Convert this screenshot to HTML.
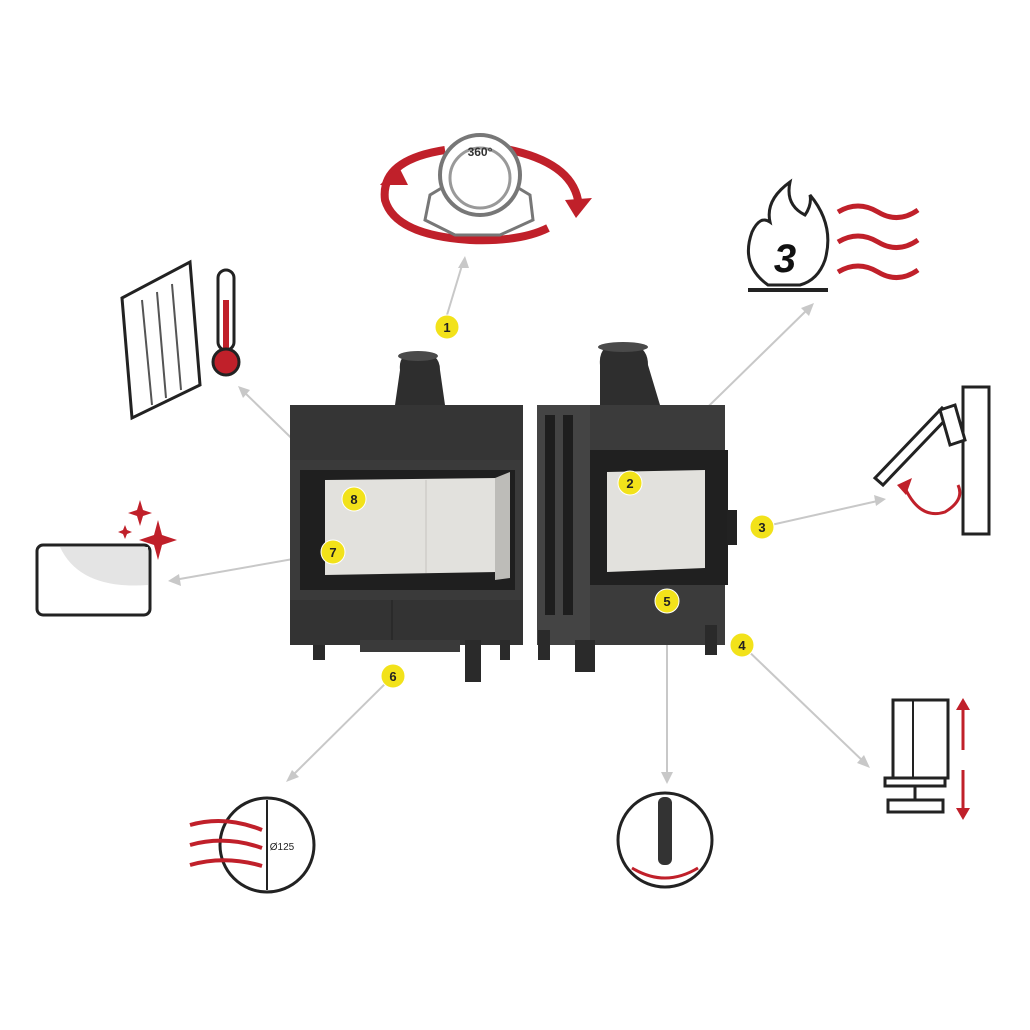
<!DOCTYPE html>
<html><head><style>
html,body{margin:0;padding:0;background:#fff;}
svg{display:block}
text{font-family:"Liberation Sans",sans-serif;}
</style></head><body>
<svg width="1030" height="1030" viewBox="0 0 1030 1030" xmlns="http://www.w3.org/2000/svg">
<rect width="1030" height="1030" fill="#fff"/>
<!-- connector lines -->
<g stroke="#c8c8c8" stroke-width="2" fill="none">
<line x1="447" y1="315" x2="463" y2="262"/>
<line x1="630" y1="483" x2="810" y2="307"/>
<line x1="762" y1="527" x2="882" y2="500"/>
<line x1="742" y1="645" x2="866" y2="764"/>
<line x1="667" y1="601" x2="667" y2="778"/>
<line x1="393" y1="676" x2="290" y2="778"/>
<line x1="333" y1="552" x2="174" y2="580"/>
<line x1="354" y1="499" x2="242" y2="390"/>
</g>
<g fill="#c8c8c8">
<polygon points="465,256 458,268 469,268"/>
<polygon points="814,303 801,308 809,316"/>
<polygon points="886,499 874,495 876,506"/>
<polygon points="870,768 857,763 864,755"/>
<polygon points="667,784 661,772 673,772"/>
<polygon points="286,782 292,770 299,777"/>
<polygon points="168,581 179,574 181,586"/>
<polygon points="238,386 250,390 243,398"/>
</g>
<!-- left fireplace -->
<g>
<path d="M395 405 L400 370 Q398 352 418 352 Q440 352 440 370 L445 405Z" fill="#2e2e2e"/>
<ellipse cx="418" cy="356" rx="20" ry="5" fill="#4a4a4a"/>
<rect x="290" y="405" width="233" height="55" fill="#353535"/>
<rect x="290" y="460" width="233" height="140" fill="#3a3a3a"/>
<rect x="300" y="470" width="215" height="120" fill="#1f1f1f"/>
<polygon points="325,480 497,478 497,572 325,575" fill="#e2e1dd"/>
<polygon points="495,478 510,472 510,578 495,580" fill="#bdbcb8"/>
<line x1="426" y1="480" x2="426" y2="573" stroke="#c5c4c0"/>
<rect x="290" y="600" width="233" height="45" fill="#333"/>
<line x1="392" y1="600" x2="392" y2="645" stroke="#222"/>
<rect x="313" y="645" width="12" height="15" fill="#2a2a2a"/>
<rect x="465" y="640" width="16" height="42" fill="#2a2a2a"/>
<rect x="500" y="640" width="10" height="20" fill="#2a2a2a"/>
<rect x="360" y="640" width="100" height="12" fill="#3a3a3a"/>
</g>
<!-- right fireplace -->
<g>
<path d="M600 405 L600 365 Q598 343 622 343 Q648 343 648 365 L660 405Z" fill="#2e2e2e"/>
<ellipse cx="623" cy="347" rx="25" ry="5" fill="#4a4a4a"/>
<rect x="537" y="405" width="188" height="240" fill="#3b3b3b"/>
<rect x="537" y="405" width="53" height="240" fill="#444"/>
<rect x="545" y="415" width="10" height="200" fill="#1e1e1e"/>
<rect x="563" y="415" width="10" height="200" fill="#1e1e1e"/>
<rect x="590" y="450" width="138" height="135" fill="#202020"/>
<polygon points="607,472 705,470 705,568 607,572" fill="#e2e1dd"/>
<rect x="727" y="510" width="10" height="35" fill="#222"/>
<rect x="538" y="630" width="12" height="30" fill="#2a2a2a"/>
<rect x="575" y="640" width="20" height="32" fill="#2a2a2a"/>
<rect x="705" y="625" width="12" height="30" fill="#2a2a2a"/>
</g>
<!-- badges -->
<g fill="#f2e21a" stroke="#fff" stroke-width="1">
<circle cx="447" cy="327" r="12"/><circle cx="630" cy="483" r="12"/><circle cx="762" cy="527" r="12"/>
<circle cx="742" cy="645" r="12"/><circle cx="667" cy="601" r="12"/><circle cx="393" cy="676" r="12"/>
<circle cx="333" cy="552" r="12"/><circle cx="354" cy="499" r="12"/>
</g>
<g font-size="13" font-weight="bold" text-anchor="middle" fill="#222">
<text x="447" y="332">1</text><text x="630" y="488">2</text><text x="762" y="532">3</text>
<text x="742" y="650">4</text><text x="667" y="606">5</text><text x="393" y="681">6</text>
<text x="333" y="557">7</text><text x="354" y="504">8</text>
</g>
<!-- icon 1 rotation -->
<g>
<path d="M445 150 Q380 160 385 200 Q395 235 470 240 Q520 242 548 228" stroke="#c0202a" stroke-width="8" fill="none"/>
<path d="M500 148 Q570 160 578 200" stroke="#c0202a" stroke-width="8" fill="none"/>
<polygon points="565,200 592,198 576,218" fill="#c0202a"/>
<polygon points="398,165 380,185 408,185" fill="#c0202a"/>
<polygon points="425,220 430,195 455,180 505,180 530,195 533,220 500,235 455,235" fill="#fff" stroke="#777" stroke-width="3"/>
<circle cx="480" cy="175" r="40" fill="#fff" stroke="#777" stroke-width="4"/>
<circle cx="480" cy="178" r="30" fill="none" stroke="#999" stroke-width="3"/>
<text x="480" y="156" font-size="12" font-weight="bold" text-anchor="middle" fill="#333">360°</text>
</g>
<!-- icon 2 flame -->
<g>
<path d="M768 285 Q740 265 752 232 Q760 215 770 222 Q765 200 790 182 Q785 205 805 215 Q812 205 810 195 Q835 225 825 260 Q818 280 800 285Z" fill="#fff" stroke="#222" stroke-width="3"/>
<text x="785" y="272" font-size="40" font-weight="bold" font-style="italic" text-anchor="middle" fill="#111">3</text>
<line x1="748" y1="290" x2="828" y2="290" stroke="#222" stroke-width="4"/>
<g stroke="#c0202a" stroke-width="5" fill="none">
<path d="M838 212 Q858 200 878 212 Q898 224 918 210"/>
<path d="M838 242 Q858 230 878 242 Q898 254 918 240"/>
<path d="M838 272 Q858 260 878 272 Q898 284 918 270"/>
</g>
</g>
<!-- icon 3 bracket -->
<g stroke="#222" stroke-width="3" fill="#fff">
<rect x="963" y="387" width="26" height="147"/>
<polygon points="875,478 942,408 950,415 883,485"/>
<polygon points="940,410 955,405 965,440 950,445"/>
</g>
<path d="M905 488 Q920 520 945 512 Q965 500 958 485" stroke="#c0202a" stroke-width="3" fill="none"/>
<polygon points="897,485 912,478 906,495" fill="#c0202a"/>
<!-- icon 4 legs -->
<g stroke="#222" stroke-width="3" fill="#fff">
<rect x="893" y="700" width="55" height="78"/>
<rect x="885" y="778" width="60" height="8"/>
<line x1="915" y1="786" x2="915" y2="800"/>
<rect x="888" y="800" width="55" height="12"/>
</g>
<line x1="913" y1="700" x2="913" y2="778" stroke="#222" stroke-width="2"/>
<g stroke="#c0202a" stroke-width="3"><line x1="963" y1="705" x2="963" y2="750"/><line x1="963" y1="770" x2="963" y2="815"/></g>
<g fill="#c0202a"><polygon points="963,698 956,710 970,710"/><polygon points="963,820 956,808 970,808"/></g>
<!-- icon 5 circle -->
<circle cx="665" cy="840" r="47" fill="#fff" stroke="#222" stroke-width="3"/>
<rect x="658" y="797" width="14" height="68" rx="6" fill="#333"/>
<path d="M632 868 Q665 888 698 868" stroke="#c0202a" stroke-width="3" fill="none"/>
<!-- icon 6 circle -->
<circle cx="267" cy="845" r="47" fill="#fff" stroke="#222" stroke-width="3"/>
<line x1="267" y1="800" x2="267" y2="890" stroke="#222" stroke-width="2"/>
<text x="282" y="850" font-size="10" fill="#222" text-anchor="middle">Ø125</text>
<g stroke="#c0202a" stroke-width="4" fill="none">
<path d="M190 825 Q225 815 262 830"/><path d="M190 845 Q225 835 262 848"/><path d="M190 865 Q225 855 262 866"/>
</g>
<!-- icon 7 card -->
<rect x="37" y="545" width="113" height="70" rx="6" fill="#fff" stroke="#222" stroke-width="3"/>
<path d="M60 547 Q80 590 148 585 L148 547Z" fill="#e4e4e4"/>
<g fill="#c0202a">
<path d="M158 520 L162 535 L177 540 L162 545 L158 560 L154 545 L139 540 L154 535Z"/>
<path d="M140 500 L143 510 L152 513 L143 516 L140 526 L137 516 L128 513 L137 510Z"/>
<path d="M125 525 L127 530 L132 532 L127 534 L125 539 L123 534 L118 532 L123 530Z"/>
</g>
<!-- icon 8 door + thermometer -->
<g stroke="#222" stroke-width="3" fill="#fff">
<polygon points="122,298 190,262 200,385 132,418"/>
</g>
<g stroke="#555" stroke-width="2">
<line x1="142" y1="300" x2="152" y2="405"/><line x1="157" y1="292" x2="166" y2="398"/>
<line x1="172" y1="284" x2="181" y2="390"/>
</g>
<rect x="218" y="270" width="16" height="80" rx="8" fill="#fff" stroke="#222" stroke-width="3"/>
<rect x="223" y="300" width="6" height="50" fill="#c0202a"/>
<circle cx="226" cy="362" r="13" fill="#c0202a" stroke="#222" stroke-width="3"/>
</svg>
</body></html>
